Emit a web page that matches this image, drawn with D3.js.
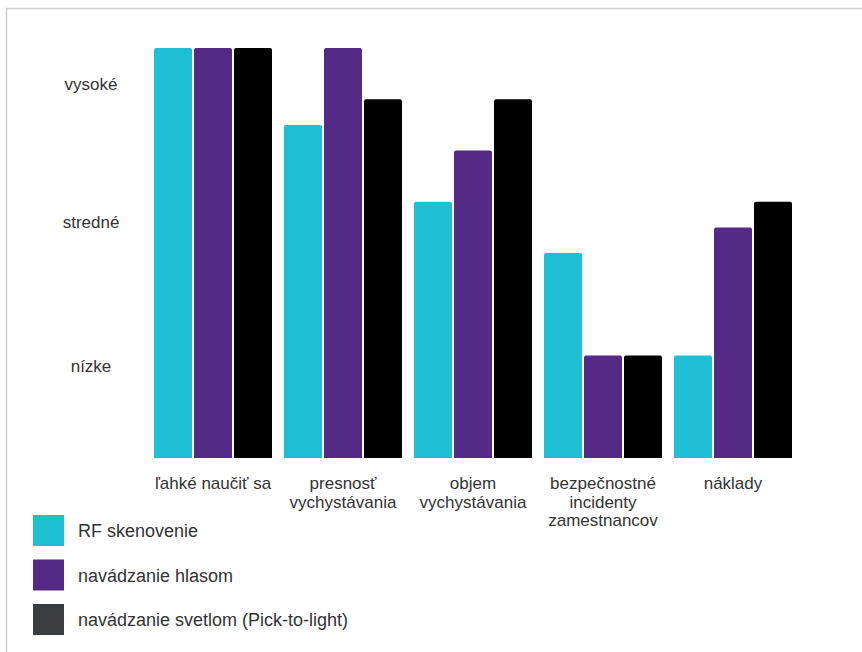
<!DOCTYPE html>
<html>
<head>
<meta charset="utf-8">
<script src="https://cdn.jsdelivr.net/npm/d3@7"></script>
<style>
  html, body { margin: 0; padding: 0; background: #fff; }
  svg { display: block; }
  text { font-family: "Liberation Sans", Arial, sans-serif; fill: #333; }
</style>
</head>
<body>
<svg id="chart" width="862" height="652"></svg>
<script>
// Categories (multi-line labels)
const categories = [
  ["ľahké naučiť sa"],
  ["presnosť", "vychystávania"],
  ["objem", "vychystávania"],
  ["bezpečnostné", "incidenty", "zamestnancov"],
  ["náklady"]
];
const seriesNames = ["RF skenovenie", "navádzanie hlasom", "navádzanie svetlom (Pick-to-light)"];
const rfValues    = [16, 13, 10, 8, 4];
const voiceValues = [16, 16, 12, 4, 9];
const lightValues = [16, 14, 14, 4, 10];
const levelLabels = ["nízke", "stredné", "vysoké"];
const levelValues = [3.6, 9.2, 14.6];

const barColors = ["#1ebed3", "#552a86", "#000000"];
const legendColors = ["#1ebed3", "#552a86", "#3a3d40"];

const svg = d3.select("#chart");

// frame lines
svg.append("line").attr("x1", 6).attr("x2", 862).attr("y1", 8.5).attr("y2", 8.5)
  .attr("stroke", "#cfcfcf").attr("stroke-width", 1.6);
svg.append("line").attr("x1", 6.5).attr("x2", 6.5).attr("y1", 8).attr("y2", 652)
  .attr("stroke", "#cfcfcf").attr("stroke-width", 1.6);

const x0 = d3.scaleBand().domain(d3.range(categories.length)).range([154, 792]).paddingInner(12 / 130).paddingOuter(0);
const x1 = d3.scaleBand().domain(d3.range(3)).range([0, x0.bandwidth()]).paddingInner(0.05);
const y = d3.scaleLinear().domain([0, 16]).range([458, 48]);

const series = [rfValues, voiceValues, lightValues];

const groups = svg.append("g").selectAll("g").data(categories).join("g")
  .attr("transform", (d, i) => `translate(${x0(i)},0)`);

groups.each(function(cat, ci) {
  const g = d3.select(this);
  series.forEach((vals, si) => {
    const bx = x1(si), bw = x1.bandwidth(), top = y(vals[ci]), r = 2;
    g.append("path")
      .attr("d", `M${bx},${y(0)}V${top + r}Q${bx},${top} ${bx + r},${top}H${bx + bw - r}Q${bx + bw},${top} ${bx + bw},${top + r}V${y(0)}Z`)
      .attr("fill", barColors[si]);
  });
  const t = g.append("text").attr("text-anchor", "middle").attr("font-size", 17);
  cat.forEach((line, li) => {
    t.append("tspan").attr("x", x0.bandwidth() / 2).attr("y", 489 + li * 18.5).text(line);
  });
});

// y axis level labels
const yAxis = d3.axisLeft(y).tickValues(levelValues).tickFormat((d, i) => levelLabels[i]).tickSize(0).tickPadding(0);
const ya = svg.append("g").attr("transform", "translate(91,0)").call(yAxis);
ya.select(".domain").remove();
ya.selectAll("text").attr("text-anchor", "middle").attr("font-size", 17)
  .attr("font-family", "'Liberation Sans', Arial, sans-serif").attr("fill", "#333");

// legend
const legend = svg.append("g").selectAll("g").data(seriesNames).join("g")
  .attr("transform", (d, i) => `translate(33,${515 + i * 44.5})`);
legend.append("rect").attr("width", 31).attr("height", 31).attr("fill", (d, i) => legendColors[i]);
legend.append("text").attr("x", 45).attr("y", 22).attr("font-size", 18).text(d => d);
</script>
</body>
</html>
